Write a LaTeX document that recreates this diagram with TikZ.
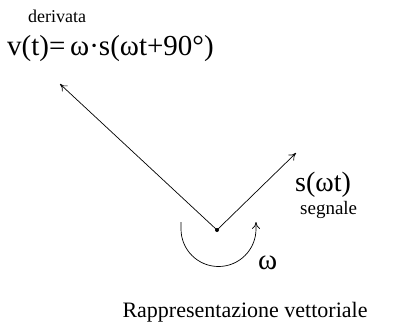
\documentclass[tikz,border=0pt]{standalone}
\usepackage{fontspec}
\setmainfont{Liberation Serif}
\usetikzlibrary{arrows.meta,positioning}

\begin{document}
\begin{tikzpicture}[
  x=1pt,y=-1pt,
  vec/.style={-{To[length=7pt,width=8pt]},line width=0.7pt},
  lbl/.style={inner sep=0pt,font=\fontsize{29}{31}\selectfont},
  small/.style={inner sep=0pt,font=\fontsize{18}{20}\selectfont},
  ]
  \useasboundingbox (0,0) rectangle (399,330);
  % fasore e derivata
  \coordinate (O) at (217,230);
  \coordinate (vtip) at (60,84);
  \coordinate (stip) at (296,153);
  \fill (O) circle (2);
  \draw[vec] (O) -- (vtip);
  \draw[vec] (O) -- (stip);
  % rotazione
  \coordinate (rotA) at (181,222);
  \coordinate (rotB) at (256,222);
  \draw[vec] (rotA) -- ++(0,7) arc[start angle=180,end angle=0,radius=37.5] -- (rotB);
  % testi
  \node[small,anchor=base west] (der) at (28,22) {derivata};
  \node[lbl,anchor=base west] (vt) at (7,55) {v(t)=\,ω·s(ωt+90°)};
  \node[lbl,font=\fontsize{28}{30}\selectfont,anchor=base west] (st) at (295,191) {s(ωt)};
  \node[small,font=\fontsize{19}{21}\selectfont,anchor=base west] (sig) at (300,214) {segnale};
  \node[lbl,anchor=base west] (om) at (258,269) {ω};
  \node[font=\fontsize{22}{24}\selectfont,inner sep=0pt,anchor=base] (title) at (245,317) {Rappresentazione vettoriale};
\end{tikzpicture}
\end{document}
